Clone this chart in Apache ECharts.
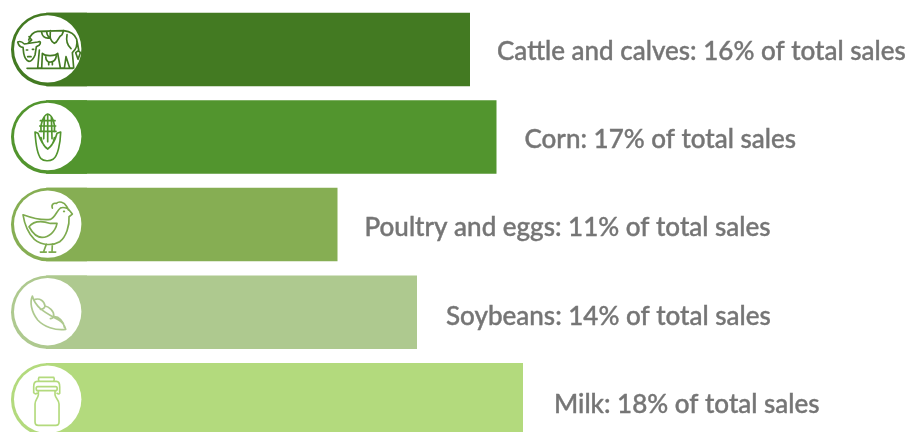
<!DOCTYPE html>
<html><head><meta charset="utf-8">
<style>html,body{margin:0;padding:0;background:#fff}#c{width:912px;height:432px}</style>
<script src="https://cdn.jsdelivr.net/npm/echarts@6/dist/echarts.min.js"></script>
</head><body><div id="c"></div>
<script>
const categories = ['Cattle and calves','Corn','Poultry and eggs','Soybeans','Milk'];
const shares = [16,17,11,14,18];
const colors = ['#437A22','#52952E','#86AE53','#AEC98F','#B3DA7D'];
const iconColors = ['#437A22','#52952E','#7DAA4E','#AEC98F','#B3DA7D'];
const labelGaps = [27,28,27,29,31];
const labelDrops = [2,2.5,3.5,4,4.5];

const iconCentres = [[142,146.7],[142,409.5],[142,132],[142,395],[142,658]];
const icons = [
 // cow
 'M85 120 C90 105 98 96 112 94 L190 92 C208 94 224 104 229 118 L235 150 M229 118 C232 135 225 150 216 158 L220 204 L208 204 L197 170 L192 204 L180 204 L172 160 C165 168 135 170 126 160 L124 204 L112 204 L117 150 ' +
 'M124 98 C126 110 132 116 148 114 C140 106 138 100 140 94 M150 92 C150 108 145 118 162 130 C175 125 172 110 185 104 L190 92 M200 104 C196 125 205 140 212 146 ' +
 'M52 126 C60 122 68 128 72 132 L112 126 C122 122 122 130 116 136 L108 140 L104 165 C100 175 92 184 86 184 C78 182 72 170 70 160 L68 142 C60 142 54 134 52 126 Z M86 110 L94 120 L84 128 ' +
 'M136 170 C136 182 145 188 150 186 C158 186 166 180 168 168 M145 186 L145 194 M156 186 L156 194 M80 205 L218 205 ' +
 'M78 150 L82 150 M96 148 L100 148 M82 170 L92 170 ' +
 'M234 152 L240 158 L233 178 L226 158 Z',
 // corn
 'M122 395 C118 372 130 345 142 342 C156 345 166 372 162 395 M120 362 L164 362 M118 378 L166 378 M117 394 L167 394 M132 350 L130 416 M142 343 L142 425 M153 350 L155 416 ' +
 'M104 396 L113 400 C118 415 125 435 142 447 C158 435 166 415 170 400 L181 396 C180 430 172 470 158 478 C148 484 130 484 122 476 C112 465 106 430 104 396 Z ' +
 'M122 413 C125 430 130 440 142 447 M162 413 C160 430 152 440 142 447',
 // chicken
 'M68 104 C90 112 120 122 150 118 C165 112 170 90 180 84 C188 80 200 84 205 88 L216 102 L206 110 C208 135 198 170 178 185 C160 196 125 198 102 178 C80 155 72 130 68 104 Z ' +
 'M156 84 C152 72 160 68 168 70 C176 62 192 66 198 78 C204 84 202 90 205 90 M86 140 C100 122 125 122 150 130 L170 130 C165 155 145 172 125 172 C110 172 96 158 86 140 Z ' +
 'M138 192 L130 214 M156 192 L155 214 M120 216 L138 216 M146 216 L166 216 M190 94 L192 94',
 // soybean
 'M96 348 C88 365 92 395 112 420 C130 440 165 452 196 448 C192 435 185 425 175 420 C140 400 105 385 96 348 Z ' +
 'M104 358 C118 354 132 362 134 378 C132 386 126 388 120 388 M134 378 C145 380 162 392 160 408 C158 414 154 416 150 416 M160 410 C175 408 190 425 192 442',
 // milk can
 'M116 592 L160 592 Q164 598 160 604 L116 604 Q112 598 116 592 Z M110 604 L168 604 C176 604 178 610 178 620 L178 640 M110 604 C102 604 100 610 100 620 L100 638 Q104 644 110 640 M178 640 Q176 644 170 640 ' +
 'M112 620 L166 620 C172 620 172 632 166 632 L112 632 C106 632 106 620 112 620 Z M114 632 L114 645 C112 656 104 660 104 672 L104 726 Q104 736 114 736 L166 736 Q176 736 176 726 L176 672 C176 660 166 656 164 645 L164 632'
];

function renderIcon(params, api) {
  const i = api.value(1);
  const leftX = api.coord([axisMin, i])[0];
  const zeroPt = api.coord([0, i]);
  const h = api.size([0, 1])[1] * 73.5 / 87.6;
  const cy = zeroPt[1];
  const top = cy - h / 2;
  const cx = leftX + 36.7;
  const c = iconCentres[i];
  return {type: 'group', silent: true, children: [
    {type: 'rect', shape: {x: leftX, y: top, width: 76, height: h, r: [36.75, 0, 0, 36.75]}, style: {fill: colors[i]}},
    {type: 'circle', shape: {cx: cx, cy: cy - 0.5, r: 33.7}, style: {fill: '#fff'}},
    {type: 'path', shape: {pathData: icons[i]}, position: [cx - c[0] / 3, cy - 0.5 - c[1] / 3], scaleX: 1 / 3, scaleY: 1 / 3,
     style: {fill: 'none', stroke: iconColors[i], lineWidth: 5, lineJoin: 'round', lineCap: 'round'}}
  ]};
}

const axisMin = -35 / 26.5;
const chart = echarts.init(document.getElementById('c'), null, {renderer: 'canvas'});
chart.setOption({
  animation: false,
  backgroundColor: '#fff',
  grid: {left: 11, width: 26.5 * 33.4, top: 5.6, height: 438, containLabel: false, outerBoundsMode: 'none'},
  xAxis: {type: 'value', min: axisMin, max: axisMin + 33.4, show: false},
  yAxis: {type: 'category', data: categories, inverse: true, show: false},
  series: [
    {type: 'bar', barWidth: 73.5, barCategoryGap: 0, clip: false,
     data: shares.map((v, i) => ({value: v, itemStyle: {color: colors[i]},
       label: {distance: labelGaps[i], offset: [0, labelDrops[i]]}})),
     label: {show: true, position: 'right', color: '#757575', fontFamily: 'Lato', fontWeight: 500, fontSize: 26,
       textBorderColor: '#757575', textBorderWidth: 0.4,
       formatter: p => p.name + ': ' + p.value + '% of total sales'}},
    {type: 'custom', renderItem: renderIcon, data: shares.map((v, i) => [v, i]), encode: {x: 0, y: 1}, z: 5, clip: false}
  ]
});
</script></body></html>
